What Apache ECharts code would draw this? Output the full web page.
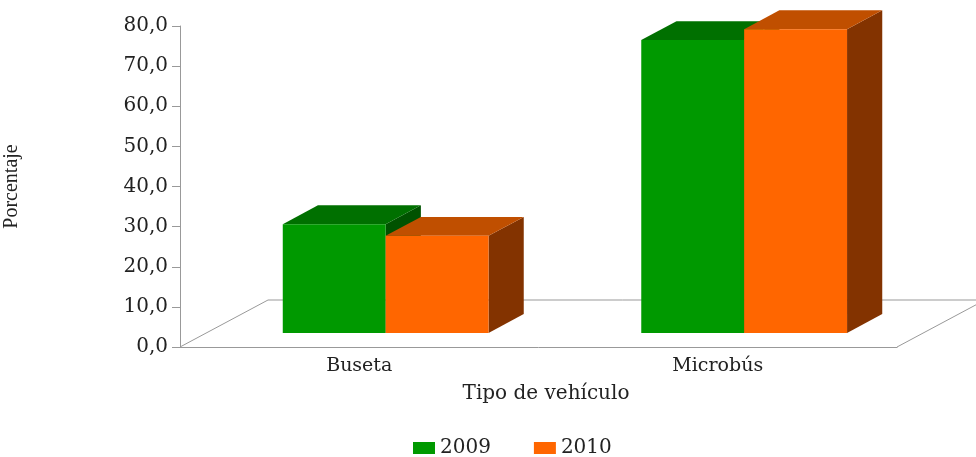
<!DOCTYPE html>
<html>
<head>
<meta charset="utf-8">
<script src="https://cdn.jsdelivr.net/npm/echarts@6/dist/echarts.min.js"></script>
<style>
    html, body { margin: 0; padding: 0; background: #ffffff; }
    #main { width: 976px; height: 457px; }
</style>
</head>
<body>
<div id="main"></div>
<script>
// datos
var categories = ['Buseta', 'Microbús'];
var years = ['2009', '2010'];
var values2009 = [27.1, 73.0];
var values2010 = [24.2, 75.7];
var yMin = 0, yMax = 80, yStep = 10;

// colores: frente, techo, lado
var colors2009 = ['#009900', '#007000', '#005200'];
var colors2010 = ['#ff6600', '#c04f00', '#833300'];

// perspectiva oblicua (fraccion del ancho de banda)
var DEPTH_X = 0.2455;
var DEPTH_RATIO = 0.534;
var BAR_W = 0.287;
var FRONT = 0.3;
var BAR_DEPTH = 0.4;

var FONT = 'DejaVu Serif';

function barRenderer(idx, colors) {
    return function (params, api) {
        var cat = api.value(0);
        var val = api.value(1);
        var bandW = api.size([1, 0])[0];
        var base = api.coord([cat, 0]);
        var top = api.coord([cat, val]);
        var dx = bandW * DEPTH_X;
        var dy = -dx * DEPTH_RATIO;
        var barW = bandW * BAR_W;
        var x0 = base[0] - barW + idx * barW + dx * FRONT;
        var x1 = x0 + barW;
        var yb = base[1] + dy * FRONT;
        var yt = top[1] + dy * FRONT;
        var ddx = dx * BAR_DEPTH, ddy = dy * BAR_DEPTH;
        return {
            type: 'group',
            children: [
                {
                    type: 'polygon',
                    shape: { points: [[x1, yt], [x1 + ddx, yt + ddy], [x1 + ddx, yb + ddy], [x1, yb]] },
                    style: { fill: colors[2] }
                },
                {
                    type: 'polygon',
                    shape: { points: [[x0, yt], [x0 + ddx, yt + ddy], [x1 + ddx, yt + ddy], [x1, yt]] },
                    style: { fill: colors[1] }
                },
                {
                    type: 'rect',
                    shape: { x: x0, y: yt, width: barW, height: yb - yt },
                    style: { fill: colors[0] }
                }
            ]
        };
    };
}

function floorRenderer(params, api) {
    var cs = params.coordSys;
    var bandW = api.size([1, 0])[0];
    var dx = bandW * DEPTH_X;
    var dy = -dx * DEPTH_RATIO;
    var xl = cs.x, xr = cs.x + cs.width, yf = cs.y + cs.height;
    return {
        type: 'polyline',
        shape: { points: [[xl, yf], [xl + dx, yf + dy], [xr + dx, yf + dy], [xr, yf]] },
        style: { stroke: '#999999', lineWidth: 1, fill: null }
    };
}

var chart = echarts.init(document.getElementById('main'));
chart.setOption({
    animation: false,
    textStyle: { fontFamily: FONT },
    grid: { left: 180, right: 79, top: 26, bottom: 110, containLabel: false, outerBoundsMode: 'none' },
    legend: {
        data: years,
        left: 408,
        top: 433,
        icon: 'rect',
        itemWidth: 22,
        itemHeight: 12,
        itemGap: 43,
        textStyle: { fontFamily: FONT, fontSize: 20, color: '#222222' }
    },
    xAxis: {
        type: 'category',
        data: categories,
        name: 'Tipo de vehículo',
        nameLocation: 'middle',
        nameGap: 37,
        nameTextStyle: { fontFamily: FONT, fontSize: 20, color: '#222222', padding: [0, 0, 0, 15] },
        axisLine: { lineStyle: { color: '#999999' } },
        axisTick: { length: 5, lineStyle: { color: '#999999' } },
        axisLabel: { margin: 10, fontFamily: FONT, fontSize: 19, color: '#222222' }
    },
    yAxis: {
        type: 'value',
        min: yMin,
        max: yMax,
        interval: yStep,
        name: 'Porcentaje',
        nameLocation: 'middle',
        nameRotate: 90,
        nameGap: 158,
        nameTextStyle: { fontFamily: 'Liberation Serif', fontSize: 20, color: '#222222' },
        axisLine: { show: true, lineStyle: { color: '#999999' } },
        axisTick: { show: true, length: 8, lineStyle: { color: '#999999' } },
        splitLine: { show: false },
        axisLabel: {
            margin: 12,
            fontFamily: FONT,
            fontSize: 20,
            color: '#222222',
            formatter: function (v) { return v.toFixed(1).replace('.', ','); }
        }
    },
    series: [
        {
            name: 'piso',
            type: 'custom',
            z: 1,
            silent: true,
            renderItem: floorRenderer,
            data: [[0, 0]]
        },
        {
            name: years[0],
            type: 'custom',
            z: 2,
            itemStyle: { color: colors2009[0] },
            renderItem: barRenderer(0, colors2009),
            data: values2009.map(function (v, i) { return [i, v]; })
        },
        {
            name: years[1],
            type: 'custom',
            z: 3,
            itemStyle: { color: colors2010[0] },
            renderItem: barRenderer(1, colors2010),
            data: values2010.map(function (v, i) { return [i, v]; })
        }
    ]
});
</script>
</body>
</html>
